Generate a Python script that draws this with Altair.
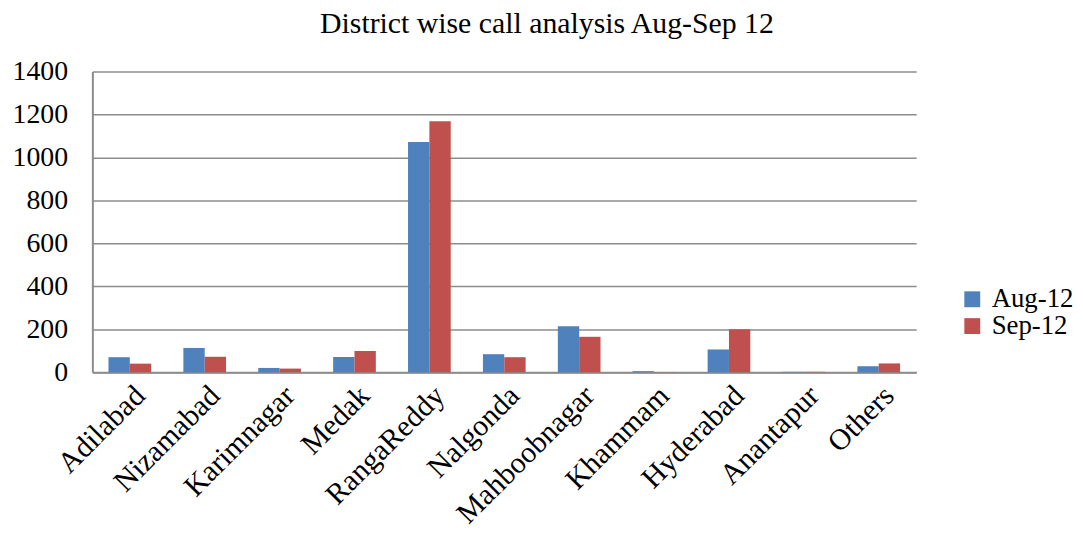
import altair as alt
import pandas as pd

districts = ["Adilabad", "Nizamabad", "Karimnagar", "Medak", "RangaReddy", "Nalgonda",
             "Mahboobnagar", "Khammam", "Hyderabad", "Anantapur", "Others"]
aug_12 = [70, 113, 20, 71, 1072, 84, 214, 5, 106, 2, 28]
sep_12 = [40, 72, 17, 99, 1168, 70, 165, 1, 200, 2, 41]
series = ["Aug-12", "Sep-12"]
colors = ["#4F81BD", "#C0504D"]

rows = []
for d, a, s in zip(districts, aug_12, sep_12):
    rows.append({"District": d, "Series": "Aug-12", "Calls": a})
    rows.append({"District": d, "Series": "Sep-12", "Calls": s})
df = pd.DataFrame(rows)

FONT = "Liberation Serif"

chart = alt.Chart(df).mark_bar().encode(
    x=alt.X("District:N", sort=districts,
            scale=alt.Scale(paddingInner=0.43, paddingOuter=0.215),
            axis=alt.Axis(title=None, labelAngle=-45, labelFontSize=30, labelFont=FONT,
                          labelColor="black", ticks=False, domainColor="#8c8c8c",
                          domainWidth=2, labelPadding=8, labelLimit=0)),
    xOffset=alt.XOffset("Series:N", sort=series),
    y=alt.Y("Calls:Q", scale=alt.Scale(domain=[0, 1400], nice=False),
            axis=alt.Axis(title=None, values=list(range(0, 1401, 200)), format="d",
                          labelFontSize=28, labelFont=FONT, labelColor="black", ticks=False,
                          domainColor="#8c8c8c", domainWidth=2, gridColor="#8c8c8c",
                          gridWidth=1.5, labelPadding=25)),
    color=alt.Color("Series:N", sort=series,
                    scale=alt.Scale(domain=series, range=colors),
                    legend=alt.Legend(title=None, orient="none", legendX=873, legendY=216,
                                      symbolType="square", symbolSize=256,
                                      symbolStrokeWidth=0, labelFontSize=27, labelFont=FONT,
                                      labelColor="black", rowPadding=-2, labelOffset=6)),
).properties(
    width=830, height=303,
    title=alt.TitleParams("District wise call analysis Aug-Sep 12", font=FONT, fontSize=30,
                          fontWeight="normal", color="black", anchor="middle", dx=43,
                          frame="group", offset=19),
    autosize=alt.AutoSizeParams(type="none"),
    padding={"left": 85, "top": 62, "right": 160, "bottom": 160},
).configure_view(stroke=None)

chart.save("out.html", embed_options={"renderer": "svg", "actions": False})
